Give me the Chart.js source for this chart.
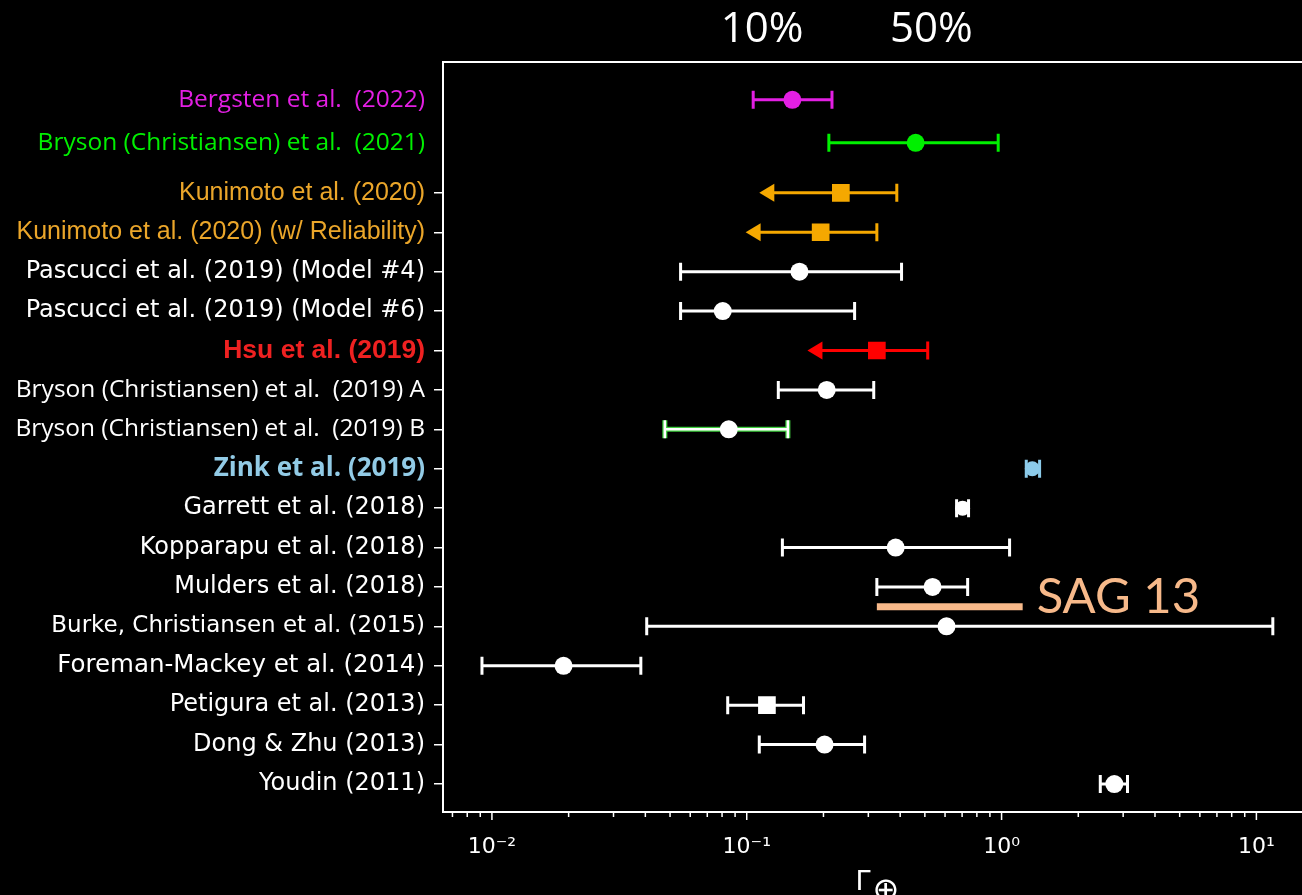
<!DOCTYPE html>
<html>
<head>
<meta charset="utf-8">
<script src="https://cdn.jsdelivr.net/npm/chart.js@4.4.0/dist/chart.umd.min.js"></script>
<style>
  html, body { margin: 0; background: #000; overflow: hidden; }
  #wrap { width: 1314px; height: 895px; }
</style>
</head>
<body>
<div id="wrap"><canvas id="chart"></canvas></div>
<script>
// --- data (top row first) ---
const studies = [
  "Bergsten et al.  (2022)",
  "Bryson (Christiansen) et al.  (2021)",
  "Kunimoto et al. (2020)",
  "Kunimoto et al. (2020) (w/ Reliability)",
  "Pascucci et al. (2019) (Model #4)",
  "Pascucci et al. (2019) (Model #6)",
  "Hsu et al. (2019)",
  "Bryson (Christiansen) et al.  (2019) A",
  "Bryson (Christiansen) et al.  (2019) B",
  "Zink et al. (2019)",
  "Garrett et al. (2018)",
  "Kopparapu et al. (2018)",
  "Mulders et al. (2018)",
  "Burke, Christiansen et al. (2015)",
  "Foreman-Mackey et al. (2014)",
  "Petigura et al. (2013)",
  "Dong & Zhu (2013)",
  "Youdin (2011)"
];
const rowPos = [-2.36, -1.27, 0, 1, 2, 3, 4, 5, 6, 7, 8, 9, 10, 11, 12, 13, 14, 15];
const center = [0.151, 0.46, 0.234, 0.195, 0.161, 0.0805, 0.324, 0.206, 0.085, 1.32, 0.703, 0.384, 0.536, 0.608, 0.0191, 0.120, 0.202, 2.77];
const lower  = [0.106, 0.21, 0.112, 0.099, 0.055, 0.055, 0.173, 0.133, 0.0477, 1.25, 0.666, 0.138, 0.324, 0.0405, 0.00914, 0.0842, 0.112, 2.44];
const upper  = [0.216, 0.97, 0.388, 0.324, 0.405, 0.265, 0.513, 0.315, 0.145, 1.41, 0.742, 1.075, 0.736, 11.6, 0.0384, 0.167, 0.29, 3.12];
const upperLimit = [false, false, true, true, false, false, true, false, false, false, false, false, false, false, false, false, false, false];
const sag13 = [0.324, 1.21];
const sag13Row = 10.5;
const xTickValues = [0.01, 0.1, 1, 10];
const xTickLabels = ["10\u207B\u00B2", "10\u207B\u00B9", "10\u2070", "10\u00B9"];
const topLabels = ["10%", "50%"];
const topLabelAt = [0.115, 0.53];

// --- styles ---
const WHITE = "#ffffff";
const markColor = ["#e31fe3", "#00f000", "#f5a800", "#f5a800", WHITE, WHITE, "#ff0000", WHITE, WHITE, "#8ccbea", WHITE, WHITE, WHITE, WHITE, WHITE, WHITE, WHITE, WHITE];
const labelColor = ["#e31fe3", "#00f000", "#eba62a", "#eba62a", WHITE, WHITE, "#ef2121", WHITE, WHITE, "#92cbe6", WHITE, WHITE, WHITE, WHITE, WHITE, WHITE, WHITE, WHITE];
const markShape = ["circle", "circle", "rect", "rect", "circle", "circle", "rect", "circle", "circle", "circle", "circle", "circle", "circle", "circle", "circle", "rect", "circle", "circle"];
const OPEN = "'Open Sans', sans-serif";
const ARIAL = "'Liberation Sans', Arial, sans-serif";
const DEJAVU = "'DejaVu Sans', sans-serif";
const labelFamily = [OPEN, OPEN, ARIAL, ARIAL, DEJAVU, DEJAVU, ARIAL, OPEN, OPEN, OPEN, DEJAVU, DEJAVU, DEJAVU, DEJAVU, DEJAVU, DEJAVU, DEJAVU, DEJAVU];
const labelWeight = ["normal", "normal", "normal", "normal", "normal", "normal", "bold", "normal", "normal", "bold", "normal", "normal", "normal", "normal", "normal", "normal", "normal", "normal"];
const labelSize = [24.5, 24.5, 25, 25, 24, 24, 26.5, 24.5, 24.5, 26, 24, 24, 24, 23, 24.5, 24, 24, 24];
const SAG_COLOR = "#f7b98a";

const points = studies.map((_, i) => ({ x: center[i], y: rowPos[i] }));

const errorBars = {
  id: "errorBars",
  beforeDatasetsDraw(chart) {
    const { ctx } = chart;
    const xs = chart.scales.x, ys = chart.scales.y;
    const cap = 9;
    ctx.save();
    studies.forEach((_, i) => {
      const py = ys.getPixelForValue(rowPos[i]);
      const xl = xs.getPixelForValue(lower[i]);
      const xh = xs.getPixelForValue(upper[i]);
      const passes = i === 8 ? [["#3fcf3f", 5], [WHITE, 2.5]] : [[markColor[i], 3]];
      passes.forEach(([col, lw]) => {
        ctx.strokeStyle = col;
        ctx.fillStyle = col;
        ctx.lineWidth = lw;
        ctx.beginPath();
        ctx.moveTo(upperLimit[i] ? xl + 10 : xl, py);
        ctx.lineTo(xh, py);
        ctx.moveTo(xh, py - cap);
        ctx.lineTo(xh, py + cap);
        if (!upperLimit[i]) {
          ctx.moveTo(xl, py - cap);
          ctx.lineTo(xl, py + cap);
        }
        ctx.stroke();
        if (upperLimit[i]) {
          ctx.beginPath();
          ctx.moveTo(xl, py);
          ctx.lineTo(xl + 15, py - 9);
          ctx.lineTo(xl + 15, py + 9);
          ctx.closePath();
          ctx.fill();
        }
      });
    });
    ctx.restore();
  },
  afterDraw(chart) {
    const { ctx, chartArea: a } = chart;
    const xs = chart.scales.x, ys = chart.scales.y;
    ctx.save();
    // frame (right side runs off the visible page)
    ctx.strokeStyle = WHITE;
    ctx.lineWidth = 2;
    ctx.beginPath();
    ctx.moveTo(a.right + 30, a.top);
    ctx.lineTo(a.left, a.top);
    ctx.lineTo(a.left, a.bottom);
    ctx.lineTo(a.right + 30, a.bottom);
    ctx.stroke();
    // log ticks
    ctx.lineWidth = 1.5;
    ctx.beginPath();
    for (let e = -3; e <= 1; e++) {
      for (let m = 1; m <= 9; m++) {
        const v = m * Math.pow(10, e);
        if (v < xs.min || v > xs.max) continue;
        const px = xs.getPixelForValue(v);
        ctx.moveTo(px, a.bottom);
        ctx.lineTo(px, a.bottom + (m === 1 ? 8 : 5));
      }
    }
    ctx.stroke();
    // SAG 13 text
    ctx.fillStyle = SAG_COLOR;
    ctx.font = "49px Lato, sans-serif";
    ctx.textBaseline = "middle";
    ctx.textAlign = "left";
    ctx.fillText("SAG 13", xs.getPixelForValue(sag13[1]) + 14, ys.getPixelForValue(sag13Row) - 9);
    // top labels
    ctx.fillStyle = WHITE;
    ctx.font = "42px 'Open Sans', sans-serif";
    ctx.textAlign = "center";
    topLabels.forEach((t, i) => ctx.fillText(t, xs.getPixelForValue(topLabelAt[i]), 30));
    // axis title
    ctx.textBaseline = "alphabetic";
    ctx.font = "27px 'DejaVu Sans', sans-serif";
    ctx.fillText("\u0393", 863, 890);
    ctx.font = "32px 'DejaVu Sans', sans-serif";
    ctx.fillText("\u2295", 886, 900);
    ctx.restore();
  }
};

new Chart(document.getElementById("chart"), {
  type: "scatter",
  data: {
    datasets: [
      {
        data: points,
        pointStyle: markShape,
        pointRadius: markShape.map((s, i) => (s === "rect" ? 12.5 : (i === 9 || i === 10 ? 7.5 : 9))),
        pointHoverRadius: markShape.map((s) => (s === "rect" ? 12.5 : 9)),
        pointBackgroundColor: markColor,
        pointBorderWidth: 0,
        order: 0
      },
      {
        type: "line",
        data: sag13.map((v) => ({ x: v, y: sag13Row })),
        borderColor: SAG_COLOR,
        borderWidth: 7,
        pointRadius: 0,
        order: 1
      }
    ]
  },
  options: {
    responsive: true,
    maintainAspectRatio: false,
    animation: false,
    layout: { padding: { top: 62, right: 0, left: 0, bottom: 0 } },
    plugins: { legend: { display: false }, tooltip: { enabled: false } },
    scales: {
      x: {
        type: "logarithmic",
        min: Math.pow(10, -2.192),
        max: Math.pow(10, 1.177),
        afterBuildTicks: (s) => { s.ticks = xTickValues.map((v) => ({ value: v })); },
        afterFit: (s) => { s.height = 83; },
        grid: { display: false },
        border: { display: false },
        ticks: {
          color: WHITE,
          padding: 14,
          autoSkip: false,
          maxRotation: 0,
          font: { family: "'DejaVu Sans', sans-serif", size: 22 },
          callback: (v, i) => xTickLabels[i]
        }
      },
      y: {
        type: "linear",
        reverse: true,
        min: -3.32,
        max: 15.71,
        afterBuildTicks: (s) => { s.ticks = rowPos.map((v) => ({ value: v })); },
        afterFit: (s) => { s.width = 443; },
        border: { display: false },
        grid: {
          drawOnChartArea: false,
          drawTicks: true,
          tickLength: 9,
          lineWidth: 1.5,
          tickColor: (c) => (c.index < 2 ? "rgba(0,0,0,0)" : WHITE)
        },
        ticks: {
          autoSkip: false,
          padding: 9,
          color: (c) => labelColor[c.index],
          font: (c) => ({ family: labelFamily[c.index], size: labelSize[c.index], weight: labelWeight[c.index] }),
          callback: (v, i) => studies[i]
        }
      }
    }
  },
  plugins: [errorBars]
});
</script>
</body>
</html>
